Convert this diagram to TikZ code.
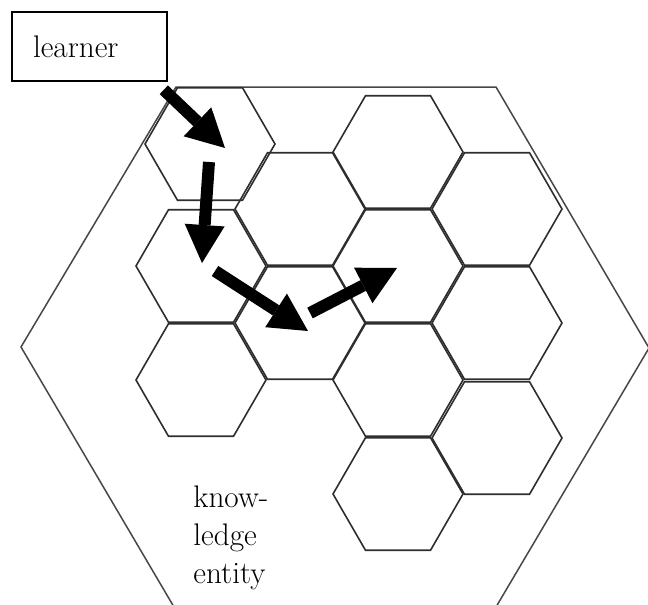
\documentclass[tikz,border=0pt]{standalone}
\usetikzlibrary{arrows.meta, shapes.geometric}
\definecolor{cellline}{HTML}{2E2E2E}
\definecolor{entline}{HTML}{474747}
\tikzset{
  cell/.style   = {regular polygon, regular polygon sides=6, draw=cellline, line width=0.8pt,
                   minimum size=65pt, inner sep=0pt},
  entity/.style = {draw=entline, line width=0.75pt},
  box/.style    = {draw=black, line width=0.8pt, fill=white, minimum height=34.5pt,
                   text width=56.5pt, inner xsep=10.5pt, align=left,
                   font=\fontsize{15.6}{19}\selectfont},
  lbl/.style    = {inner sep=0pt, align=left, font=\fontsize{15.6}{19}\selectfont},
  walk/.style   = {-{Triangle[length=19pt, width=20pt, line width=0pt]}, line width=6pt}
}
\begin{document}
\begin{tikzpicture}[x=0.5pt, y=-0.5pt]
  \useasboundingbox (0,0) rectangle (648,605);
  \draw[entity] (21,347) -- (176,87) -- (496,87) -- (649,348) -- (496,607) -- (174,607) -- cycle;

  \node[cell] (c1a) at (210,144) {};
  \node[cell] (c1b) at (201,266) {};
  \node[cell] (c1c) at (201,380) {};
  \node[cell] (c2a) at (300,209) {};
  \node[cell] (c2b) at (300,323) {};
  \node[cell] (c3a) at (398,152) {};
  \node[cell] (c3b) at (398,266) {};
  \node[cell] (c3c) at (398,380) {};
  \node[cell] (c3d) at (398,494) {};
  \node[cell] (c4a) at (497,209) {};
  \node[cell] (c4b) at (497,323) {};
  \node[cell] (c4c) at (497,438) {};

  \node[box] (learner) at (89.5,46.5) {learner};
  \node[lbl, anchor=north west] (entity) at (193,485) {know-\\ledge\\entity};

  \draw[walk] ([shift={(-4,8)}]learner.south east) -- ([shift={(15,4)}]c1a.center);
  \draw[walk] ([shift={(-1,18)}]c1a.center) -- ([shift={(1,-3)}]c1b.center);
  \draw[walk] ([shift={(14,5)}]c1b.center) -- ([shift={(8,8)}]c2b.center);
  \draw[walk] ([shift={(10,-10)}]c2b.center) -- ([shift={(-1,2)}]c3b.center);
\end{tikzpicture}
\end{document}
